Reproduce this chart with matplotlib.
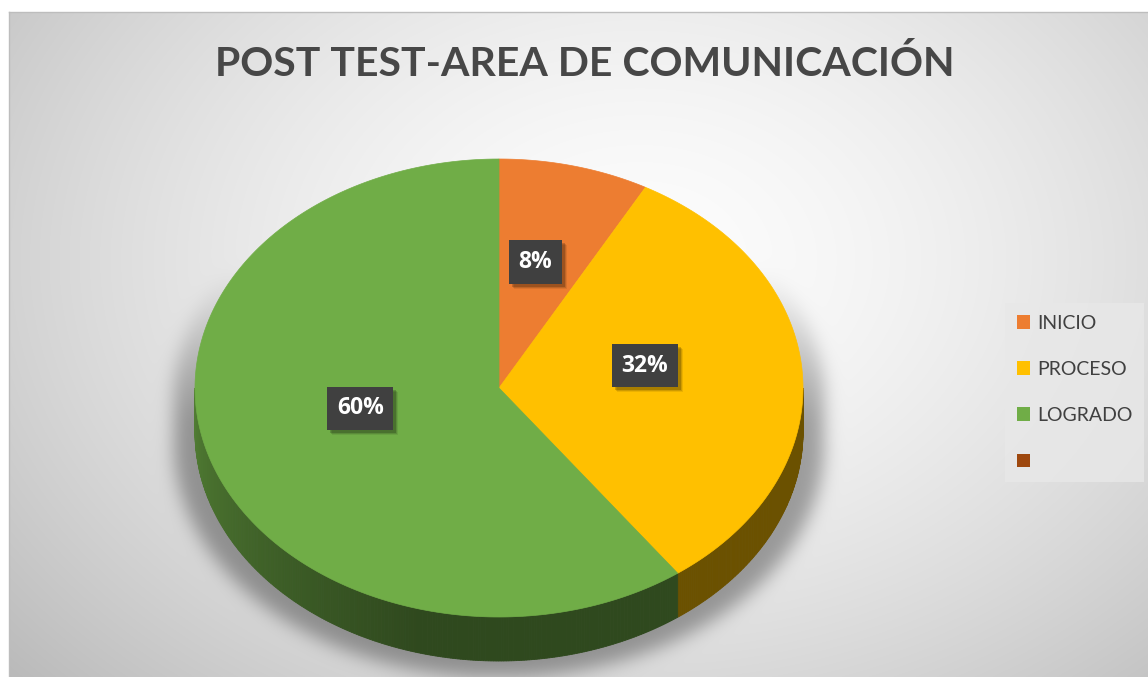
import numpy as np
import matplotlib
matplotlib.use("Agg")
import matplotlib.pyplot as plt
from matplotlib.patches import Polygon, Patch, Rectangle

# data
categories = ["INICIO", "PROCESO", "LOGRADO", ""]
values = [8, 32, 60, 0]
colors = ["#ED7D31", "#FFC000", "#70AD47", "#9E480E"]
title = "POST TEST-AREA DE COMUNICACIÓN"

W, H = 1148, 677
fig = plt.figure(figsize=(W / 100, H / 100), dpi=100)
ax = fig.add_axes([0, 0, 1, 1])
ax.set_xlim(0, W)
ax.set_ylim(H, 0)
ax.axis("off")

# pie geometry (pixels)
cx, cy, a, b, depth = 499, 388, 304, 229, 44


def blur(img, sigma):
    r = int(3 * sigma)
    k = np.exp(-0.5 * (np.arange(-r, r + 1) / sigma) ** 2)
    k /= k.sum()
    img = np.apply_along_axis(lambda m: np.convolve(m, k, mode="same"), 0, img)
    img = np.apply_along_axis(lambda m: np.convolve(m, k, mode="same"), 1, img)
    return img


# background: radial gradient + soft shadow under the pie
X, Y = np.meshgrid(np.arange(W) + 0.5, np.arange(H) + 0.5)
r = np.sqrt(((X - 640) / 760) ** 2 + ((Y - 260) / 560) ** 2)
bg = 0.99 - 0.22 * np.clip(r, 0, 1.3) ** 1.6

sx = a * 1.07
m_top = ((X - cx) / sx) ** 2 + ((Y - cy - 10) / b) ** 2 <= 1
m_bot = ((X - cx) / sx) ** 2 + ((Y - cy - depth - 12) / (b * 1.02)) ** 2 <= 1
m_mid = (np.abs(X - cx) <= sx) & (Y >= cy) & (Y <= cy + depth)
mask = (m_top | m_bot | m_mid).astype(float)
mask *= np.clip((Y - 270) / 150, 0, 1)
sh = blur(mask, 9)
bg = bg * (1 - 0.34 * sh)
# page margin
bg[:12, :] = 1.0
bg[:, :9] = 1.0
rgb = np.dstack([bg, bg, bg])
ax.imshow(rgb, extent=(0, W, H, 0), interpolation="bilinear", zorder=0, aspect="auto")
ax.plot([9, W], [12, 12], color="#bdbdbd", lw=1, zorder=1)
ax.plot([9, 9], [12, H], color="#bdbdbd", lw=1, zorder=1)

fractions = np.array(values, dtype=float) / sum(values)
bounds = np.concatenate([[0], np.cumsum(fractions)]) * 2 * np.pi


def pt(t, yoff=0):
    return cx + a * np.sin(t), cy - b * np.cos(t) + yoff


def shade(t):
    d = np.degrees(t)
    # 270 = left edge, 180 = bottom, 90 = right edge
    return 0.42 + 0.30 * np.clip((d - 195) / 75, 0, 1)


# side walls (front half)
for i, col in enumerate(colors):
    t0, t1 = max(bounds[i], np.pi / 2), min(bounds[i + 1], 1.5 * np.pi)
    if t1 <= t0:
        continue
    base = np.array(matplotlib.colors.to_rgb(col))
    ts = np.linspace(t0, t1, max(int((t1 - t0) * 120), 2))
    for s0, s1 in zip(ts[:-1], ts[1:]):
        x0, y0 = pt(s0)
        x1, y1 = pt(s1)
        c = base * shade((s0 + s1) / 2)
        ax.add_patch(Polygon([(x0, y0), (x1, y1), (x1, y1 + depth), (x0, y0 + depth)],
                             closed=True, fc=c, ec=c, lw=0.6, zorder=2))

# top face
for i, col in enumerate(colors):
    if values[i] <= 0:
        continue
    ts = np.linspace(bounds[i], bounds[i + 1], 200)
    xs, ys = pt(ts)
    verts = [(cx, cy)] + list(zip(xs, ys))
    ax.add_patch(Polygon(verts, closed=True, fc=col, ec=col, lw=0.5, zorder=3))

# data labels
labels = []
for i in range(len(values)):
    if values[i] <= 0:
        continue
    tm = (bounds[i] + bounds[i + 1]) / 2
    lx = cx + 0.48 * a * np.sin(tm)
    ly = cy - 0.5 * b * np.cos(tm) - 15
    txt = ax.text(lx, ly, f"{values[i]}%", ha="center", va="center", fontsize=16.5,
                  family="Open Sans", weight="bold", color="white",
                  bbox=dict(boxstyle="square,pad=0.42", fc="#404040", ec="none"), zorder=5)
    labels.append(txt)

# title
ax.text(585, 64, title, ha="center", va="center", fontsize=29.5, family="Lato",
        weight="bold", color="#474747", zorder=5)

# legend
handles = [Patch(fc=c, ec="none") for c in colors]
leg = ax.legend(handles, categories, loc="upper left",
                bbox_to_anchor=(1005 / W, 1 - 303 / H), bbox_transform=fig.transFigure,
                frameon=True, fancybox=False, fontsize=14,
                handlelength=0.7, handleheight=0.7, handletextpad=0.35,
                labelspacing=1.5, borderpad=0.6, borderaxespad=0)
leg.get_frame().set_facecolor("#e8e8e8")
leg.get_frame().set_edgecolor("none")
leg.get_frame().set_alpha(0.8)
for t in leg.get_texts():
    t.set_color("#404040")
    t.set_family("Lato")

# drop shadows behind label boxes
fig.canvas.draw()
inv = ax.transData.inverted()
for txt in labels:
    ext = txt.get_bbox_patch().get_window_extent()
    (x0, y0), (x1, y1) = inv.transform([[ext.x0, ext.y0], [ext.x1, ext.y1]])
    for k, al in [(5, 0.08), (4, 0.12), (3, 0.18)]:
        ax.add_patch(Rectangle((min(x0, x1) + k, min(y0, y1) + k), abs(x1 - x0), abs(y1 - y0),
                               fc=(0, 0, 0, al), ec="none", zorder=4))

fig.savefig("out.png", dpi=100)
